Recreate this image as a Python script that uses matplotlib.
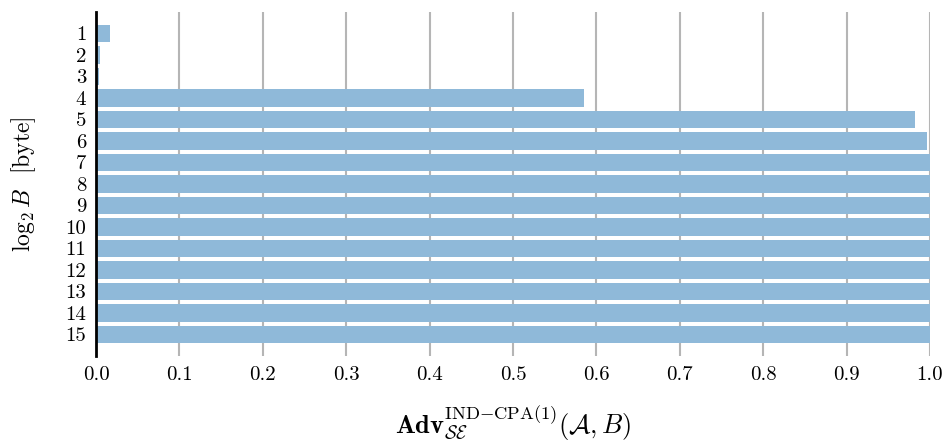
import matplotlib
matplotlib.use('Agg')
import matplotlib.pyplot as plt

sizes = list(range(1, 16))
adv = [0.017, 0.005, 0.0035, 0.585, 0.982, 0.997, 1.0, 1.0, 1.0, 1.0, 1.0, 1.0, 1.0, 1.0, 1.0]

plt.rcParams['font.family'] = 'serif'
plt.rcParams['font.serif'] = ['cmr10']
plt.rcParams['mathtext.fontset'] = 'cm'
plt.rcParams['axes.formatter.use_mathtext'] = True

fig = plt.figure(figsize=(9.47, 4.46), dpi=100)
ax = fig.add_axes([96/947, 1 - 356/446, (930-96)/947, (356-12)/446])

ax.barh(sizes, adv, height=0.8, color='#8fb9d9', zorder=2)
ax.set_xlim(0, 1.0)
ax.set_ylim(16, 0)
ax.set_yticks(sizes)
ax.set_yticklabels([str(s) for s in sizes])
ax.set_xticks([i / 10 for i in range(11)])
ax.set_xticklabels(['%.1f' % (i / 10) for i in range(11)])
ax.tick_params(length=0, labelsize=15, pad=7)
ax.grid(axis='x', color='#b5b5b5', linewidth=1.5, zorder=0)
for s in ['top', 'right', 'bottom']:
    ax.spines[s].set_visible(False)
ax.spines['left'].set_linewidth(2)
ax.spines['left'].set_zorder(3)

ax.set_ylabel(r'$\log_2 B$  [byte]', fontsize=17, labelpad=20)
ax.set_xlabel(r'$\mathbf{Adv}^{\mathrm{IND{-}CPA(1)}}_{\mathcal{SE}}(\mathcal{A}, B)$',
              fontsize=19, labelpad=14)

fig.savefig('out.png', dpi=100)
